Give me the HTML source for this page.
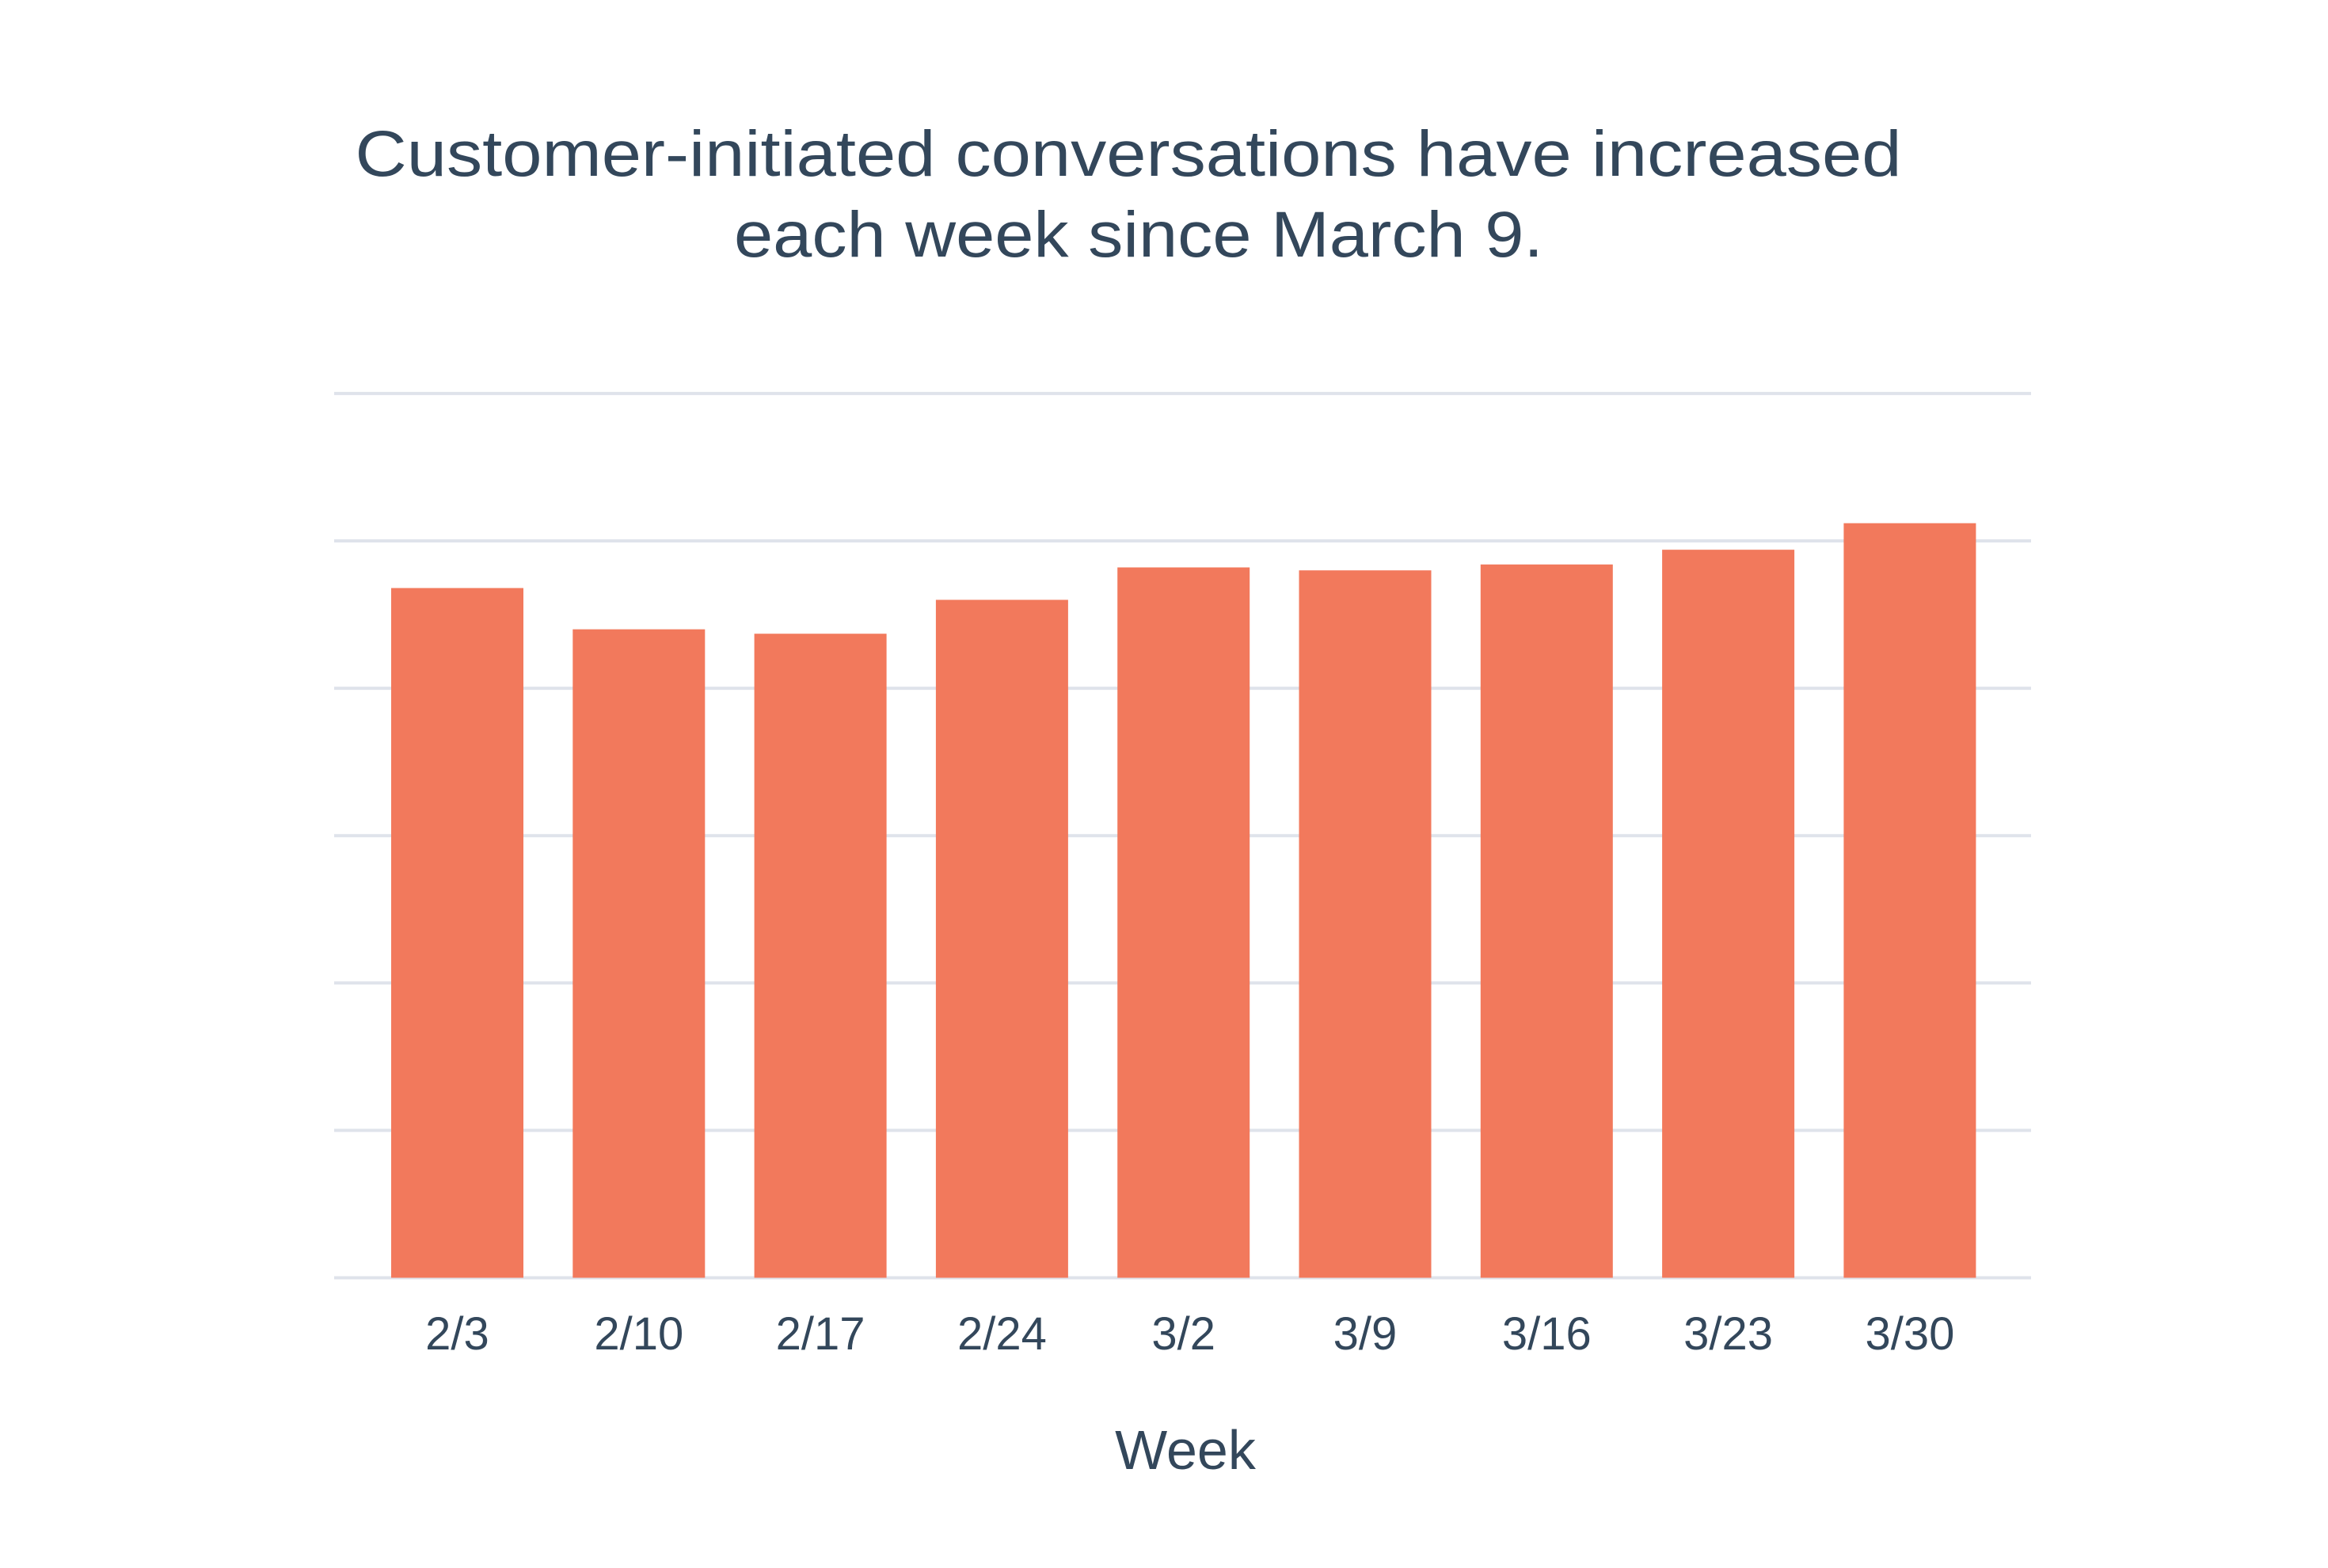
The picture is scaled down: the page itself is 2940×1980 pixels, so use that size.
<!DOCTYPE html>
<html><head><meta charset="utf-8"><style>
html,body{margin:0;padding:0;background:#fff;}
svg{display:block;}
text{font-family:"Liberation Sans",sans-serif;fill:#33475b;}
</style></head><body>
<svg id="chart" width="2940" height="1980" viewBox="0 0 2940 1980" xmlns="http://www.w3.org/2000/svg">
<rect width="2940" height="1980" fill="#fff"/>
<text x="1425" y="222" font-size="82" text-anchor="middle" textLength="1953" lengthAdjust="spacingAndGlyphs">Customer-initiated conversations have increased</text>
<text x="1438" y="324" font-size="82" text-anchor="middle" textLength="1022" lengthAdjust="spacingAndGlyphs">each week since March 9.</text>
<g id="grid"></g>
<g id="bars"></g>
<g id="xlabels"></g>
<text x="1497" y="1855" font-size="70" text-anchor="middle">Week</text>
</svg>
<script>
const categories = ["2/3","2/10","2/17","2/24","3/2","3/9","3/16","3/23","3/30"];
const values = [4.68, 4.40, 4.37, 4.60, 4.82, 4.80, 4.84, 4.94, 5.12];
const gridTicks = [0,1,2,3,4,5,6];

const NS = "http://www.w3.org/2000/svg";
const plotLeft = 422, plotRight = 2565, baseY = 1613.5, unitPx = 186.1;
const firstBarX = 494, pitch = 229.3, barW = 167;
function y(v){ return baseY - v*unitPx; }
function xBar(i){ return firstBarX + i*pitch; }

const grid = document.getElementById('grid');
gridTicks.forEach(t => {
  const l = document.createElementNS(NS,'line');
  l.setAttribute('x1',plotLeft); l.setAttribute('x2',plotRight);
  l.setAttribute('y1',y(t)); l.setAttribute('y2',y(t));
  l.setAttribute('stroke','#dfe3eb'); l.setAttribute('stroke-width','4');
  
  
  grid.appendChild(l);
});

const bars = document.getElementById('bars');
const xl = document.getElementById('xlabels');
categories.forEach((c,i) => {
  const r = document.createElementNS(NS,'rect');
  r.setAttribute('x',xBar(i)); r.setAttribute('width',barW);
  r.setAttribute('y',y(values[i])); r.setAttribute('height',baseY - y(values[i]));
  r.setAttribute('fill','#f2795c');
  
  
  bars.appendChild(r);
  const t = document.createElementNS(NS,'text');
  t.setAttribute('x',xBar(i)+barW/2); t.setAttribute('y',1704);
  t.setAttribute('font-size','58'); t.setAttribute('text-anchor','middle');
  t.textContent = c;
  
  
  xl.appendChild(t);
});
</script>
</body></html>
